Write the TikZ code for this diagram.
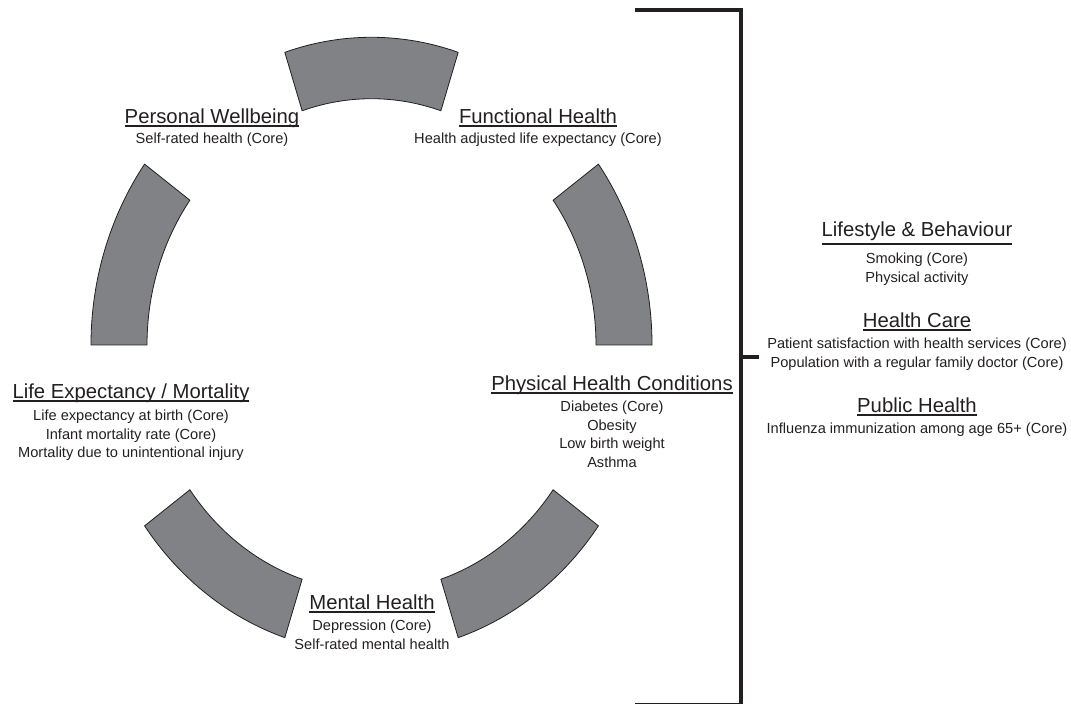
\documentclass[tikz,border=0pt]{standalone}
\usepackage{fontspec}
\setmainfont{Liberation Sans}

\definecolor{ringgray}{RGB}{128,130,133}
\definecolor{ink}{RGB}{35,31,32}

% underlined title, optional drop of the rule below the baseline
\newcommand{\heading}[2][3pt]{\setbox0=\hbox{#2}\rlap{\rule[-#1]{\wd0}{1.8pt}}\box0}

\begin{document}
\begin{tikzpicture}[x=1pt, y=1pt,
    segment/.style={fill=ringgray, draw=ink, line width=0.8pt},
    title/.style={anchor=base, inner sep=0, text=ink, font=\fontsize{20.3}{24}\selectfont},
    detail/.style={anchor=north, inner sep=0, align=center, text=ink, font=\fontsize{14.6}{18.5}\selectfont},
    bracket/.style={draw=ink, line width=4pt}]
  \useasboundingbox (0,0) rectangle (1071,704);

  % five ring segments, one in every other 36 degree slot
  \begin{scope}[shift={(371.5,359)}, yscale=1.097]
    \foreach \a in {0,72,...,288}
      \draw[segment] (\a:280.5) arc[start angle=\a, delta angle=36, radius=280.5]
        -- ({\a+36}:224.5) arc[start angle=\a+36, delta angle=-36, radius=224.5] -- cycle;
  \end{scope}

  \node[title] (pw) at (212,580) {\heading{Personal Wellbeing}};
  \node[detail] (pwtext) at (212,571) {Self-rated health (Core)};

  \node[title] (fh) at (538,580) {\heading{Functional Health}};
  \node[detail] (fhtext) at (538,571) {Health adjusted life expectancy (Core)};

  \node[title] (le) at (131,305) {\heading{Life Expectancy / Mortality}};
  \node[detail] (letext) at (131,294) {Life expectancy at birth (Core)\\
    Infant mortality rate (Core)\\Mortality due to unintentional injury};

  \node[title] (phc) at (612,313) {\heading{Physical Health Conditions}};
  \node[detail] (phctext) at (612,303) {Diabetes (Core)\\Obesity\\Low birth weight\\Asthma};

  \node[title] (mh) at (372,94) {\heading{Mental Health}};
  \node[detail] (mhtext) at (372,84) {Depression (Core)\\Self-rated mental health};

  % bracket on the right, its lower arm runs along the bottom edge
  \coordinate (b1) at (635,694);
  \coordinate (b2) at (741,694);
  \coordinate (b3) at (741,-1);
  \coordinate (b4) at (635,-1);
  \coordinate (tick) at (759,347);
  \draw[bracket] (b1) -- (b2) -- (b3) -- (b4);
  \draw[bracket] (b2 |- tick) -- (tick);

  \node[title] (lb) at (917,467) {\heading[8pt]{Lifestyle \& Behaviour}};
  \node[detail] (lbtext) at (917,451) {Smoking (Core)\\Physical activity};

  \node[title] (hc) at (917,376) {\heading{Health Care}};
  \node[detail] (hctext) at (917,366) {Patient satisfaction with health services (Core)\\
    Population with a regular family doctor (Core)};

  \node[title] (ph) at (917,291) {\heading{Public Health}};
  \node[detail] (phtext) at (917,281) {Influenza immunization among age 65+ (Core)};
\end{tikzpicture}
\end{document}
